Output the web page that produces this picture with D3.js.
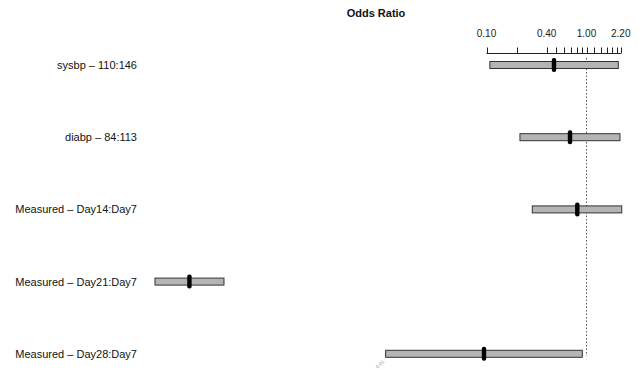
<!DOCTYPE html>
<html>
<head>
<meta charset="utf-8">
<script src="https://cdn.jsdelivr.net/npm/d3@7"></script>
<style>
  html, body { margin: 0; padding: 0; background: #fff; }
  svg { display: block; font-family: "Liberation Sans", Arial, Helvetica, sans-serif; }
</style>
</head>
<body>
<svg id="chart" width="639" height="369"></svg>
<script>
// Effect labels (top to bottom)
const effects = [
  "sysbp \u2013 110:146",
  "diabp \u2013 84:113",
  "Measured \u2013 Day14:Day7",
  "Measured \u2013 Day21:Day7",
  "Measured \u2013 Day28:Day7"
];
// Odds ratio estimates and confidence limits
const oddsRatio = [0.473, 0.684, 0.809, 0.000107, 0.0944];
const lowerCL   = [0.108, 0.216, 0.287, 0.0000484, 0.0098];
const upperCL   = [2.08, 2.16, 2.25, 0.000237, 0.908];

// Axis ticks and the subset that carries labels
const tickValues  = [0.1, 0.2, 0.4, 0.5, 0.6, 0.7, 0.8, 0.9, 1.0, 1.2, 1.4, 1.6, 1.8, 2.0, 2.2];
const labelValues = [0.1, 0.4, 1.0, 2.2];

const svg = d3.select("#chart");

// Log scale: 100 px per decade, 0.1 at x=486.5
const x = d3.scaleLog().domain([0.1, 1]).range([486.5, 586.5]);

const y = d3.scalePoint().domain(effects).range([65, 353.8]);

// Title
svg.append("text")
  .attr("x", 376).attr("y", 17)
  .attr("text-anchor", "middle")
  .attr("font-weight", "bold")
  .attr("font-size", 11)
  .attr("fill", "#111")
  .text("Odds Ratio");

// Top axis
const axisY = 53.5;
const axisG = svg.append("g").attr("transform", `translate(0,${axisY})`);
axisG.append("line")
  .attr("x1", x(0.1)).attr("x2", x(2.2))
  .attr("stroke", "#222").attr("stroke-width", 1);
axisG.selectAll("line.tick").data(tickValues).join("line")
  .attr("class", "tick")
  .attr("x1", d => Math.round(x(d)) + 0.5).attr("x2", d => Math.round(x(d)) + 0.5)
  .attr("y1", 0).attr("y2", -6)
  .attr("stroke", "#222").attr("stroke-width", 1);
axisG.selectAll("text").data(labelValues).join("text")
  .attr("x", d => x(d))
  .attr("y", -17)
  .attr("text-anchor", "middle")
  .attr("font-size", 10)
  .attr("fill", "#222")
  .text(d => d3.format(".2f")(d));

// Reference line at OR = 1
svg.append("line")
  .attr("x1", x(1)).attr("x2", x(1))
  .attr("y1", 58).attr("y2", 356)
  .attr("stroke", "#555").attr("stroke-width", 1)
  .attr("stroke-dasharray", "1.5,2");

// Effect labels
svg.selectAll("text.lab").data(effects).join("text")
  .attr("class", "lab")
  .attr("x", 137)
  .attr("y", d => y(d) + 4)
  .attr("text-anchor", "end")
  .attr("font-size", 11)
  .attr("fill", "#111")
  .text(d => d);

// Confidence bars
const rows = effects.map((e, i) => ({ e, or: oddsRatio[i], lo: lowerCL[i], hi: upperCL[i] }));
const barH = 7;
svg.selectAll("rect.ci").data(rows).join("rect")
  .attr("class", "ci")
  .attr("x", d => x(d.lo))
  .attr("width", d => x(d.hi) - x(d.lo))
  .attr("y", d => y(d.e) - barH / 2)
  .attr("height", barH)
  .attr("fill", "#b4b4b4")
  .attr("stroke", "#333")
  .attr("stroke-width", 1);

// Point estimates
svg.selectAll("rect.pt").data(rows).join("rect")
  .attr("class", "pt")
  .attr("x", d => x(d.or) - 2.2)
  .attr("width", 4.4)
  .attr("y", d => y(d.e) - 7)
  .attr("height", 14)
  .attr("rx", 2).attr("ry", 2)
  .attr("fill", "#000");

// Small rotated limit marker at the lower end of the last bar
const last = rows[rows.length - 1];
svg.append("text")
  .attr("transform", `translate(${x(last.lo) - 1},${y(last.e) + 8}) rotate(-45)`)
  .attr("text-anchor", "end")
  .attr("font-size", 5)
  .attr("fill", "#999")
  .text("0.01");
</script>
</body>
</html>
